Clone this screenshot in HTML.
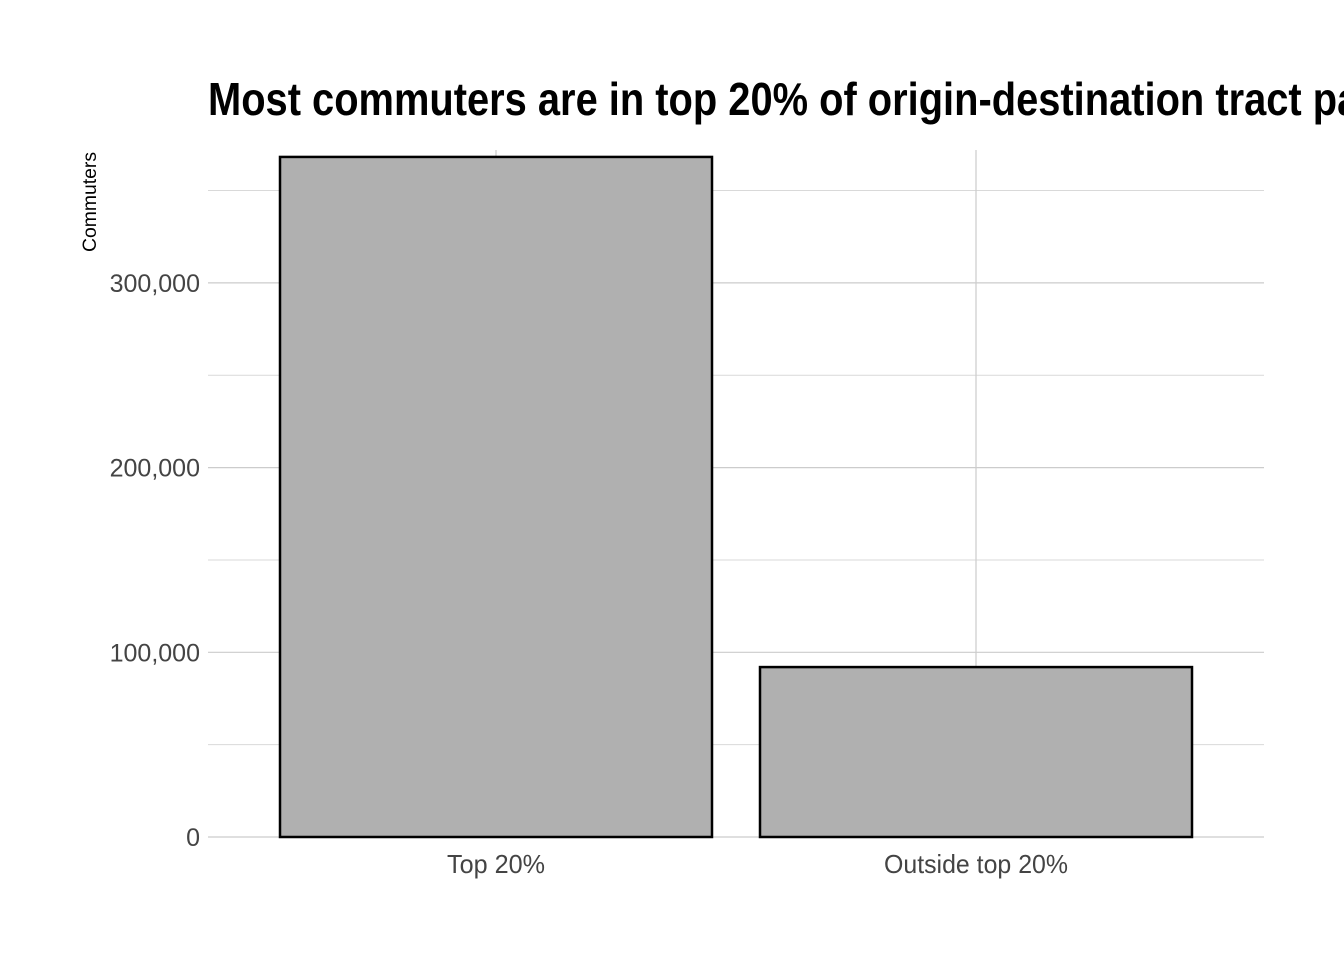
<!DOCTYPE html>
<html><head><meta charset="utf-8"><style>
body{margin:0;background:#fff;overflow:hidden;}
svg{display:block;}
text{font-family:"Liberation Sans Narrow","Liberation Sans",sans-serif;}
</style></head><body>
<svg id="chart" width="1344" height="960">
<text x="208" y="115" font-size="46" font-weight="bold" fill="#000" textLength="1200" lengthAdjust="spacingAndGlyphs">Most commuters are in top 20% of origin-destination tract pairs</text>
<text transform="translate(96,202) rotate(-90)" text-anchor="middle" font-size="19" fill="#000" textLength="100" lengthAdjust="spacingAndGlyphs">Commuters</text>
<g id="grid"></g><g id="bars"></g><g id="ticks"></g>
</svg>
<script>
const categories=["Top 20%","Outside top 20%"];
const values=[368200,92000];
const yTicks=[0,100000,200000,300000];
const yMinor=[50000,150000,250000,350000];
const tickLabels=["0","100,000","200,000","300,000"];
const NS="http://www.w3.org/2000/svg";
const x0=208,x1=1264,yTop=150,yBase=837,pxPer=184.7/100000;
const y=v=>yBase-v*pxPer;
const band=(x1-x0-96)/categories.length;
const xc=i=>x0+48+band*(i+0.5);
function mk(tag,attrs,parent){const e=document.createElementNS(NS,tag);for(const k in attrs)e.setAttribute(k,attrs[k]);document.getElementById(parent).appendChild(e);return e;}
yMinor.forEach(v=>{const l=mk('line',{x1:x0,x2:x1,y1:y(v),y2:y(v),stroke:'#d9d9d9','stroke-width':1},'grid');

});
yTicks.forEach((v,i)=>{const l=mk('line',{x1:x0,x2:x1,y1:y(v),y2:y(v),stroke:'#cccccc','stroke-width':1.2},'grid');


const t=mk('text',{x:200,y:y(v)+9,'text-anchor':'end','font-size':25,fill:'#444'},'ticks');t.textContent=tickLabels[i];

});
categories.forEach((c,i)=>{const l=mk('line',{x1:xc(i),x2:xc(i),y1:yTop,y2:yBase,stroke:'#cccccc','stroke-width':1.2},'grid');


const w=band*0.9;
const r=mk('rect',{x:xc(i)-w/2,y:y(values[i]),width:w,height:yBase-y(values[i]),fill:'#b0b0b0',stroke:'#000','stroke-width':2.5},'bars');


const t=mk('text',{x:xc(i),y:873,'text-anchor':'middle','font-size':26,fill:'#444',textLength:(i==0?98:184),lengthAdjust:'spacingAndGlyphs'},'ticks');t.textContent=c;

});
</script>
</body></html>
